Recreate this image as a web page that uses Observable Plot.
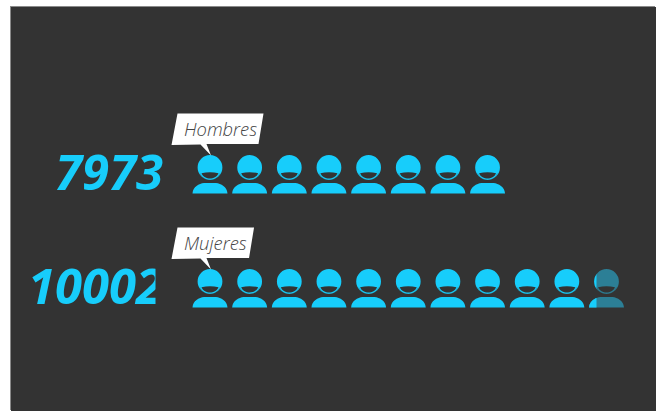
<!DOCTYPE html>
<html><head><meta charset="utf-8">
<script src="https://cdn.jsdelivr.net/npm/d3@7"></script>
<script src="https://cdn.jsdelivr.net/npm/@observablehq/plot@0.6"></script>
<style>
html,body{margin:0;padding:0;background:#fff;overflow:hidden}
#c{position:absolute;left:11px;top:7px;width:645px;height:404px;background:#333333;box-shadow:-1px -1px 0 #8a8a8a}
svg{display:block;background:transparent}
</style></head><body><div id="c"></div>
<script>
const groups = ["Hombres", "Mujeres"];
const totals = [7973, 10002];
const unit = 1000;
const calloutWidths = {Hombres: 1, Mujeres: 0.89};
const cyan = "#17cdfb";
const dim = "#2c7f96";
const bg = "#333333";

const W = 645, H = 404;
const R = 20;
const numDx = -47;
const s = size => Math.sqrt(size / Math.PI) / R;

function personBody(c, k) {
  c.moveTo(-17.5*k, 19*k);
  c.bezierCurveTo(-17*k, 12.5*k, -11*k, 9*k, -6*k, 8.6*k);
  c.lineTo(6*k, 8.6*k);
  c.bezierCurveTo(11*k, 9*k, 17*k, 12.5*k, 17.5*k, 19*k);
  c.closePath();
}
const person = {draw(c, size) {
  const k = s(size);
  c.moveTo(12.4*k, -7*k);
  c.arc(0, -7*k, 12.4*k, 0, 2*Math.PI);
  c.closePath();
  personBody(c, k);
}};
const mouth = {draw(c, size) {
  const k = s(size);
  c.moveTo(-8.5*k, -1.2*k);
  c.quadraticCurveTo(0, -3.4*k, 8.5*k, -1.2*k);
  c.bezierCurveTo(7*k, 2.5*k, 3.5*k, 4*k, 0, 4*k);
  c.bezierCurveTo(-3.5*k, 4*k, -7*k, 2.5*k, -8.5*k, -1.2*k);
  c.closePath();
}};
const smileLine = {draw(c, size) {
  const k = s(size);
  c.moveTo(-9.8*k, -1*k);
  c.bezierCurveTo(-8*k, 3.5*k, -4*k, 5.4*k, 0, 5.4*k);
  c.bezierCurveTo(4*k, 5.4*k, 8*k, 3.5*k, 9.8*k, -1*k);
}};
const callout = w => ({draw(c, size) {
  const k = s(size);
  const dx = 86 * w, tx = -32.5;
  c.moveTo(tx*k, -61*k);
  c.lineTo((tx + dx)*k, -61*k);
  c.lineTo((tx + dx - 5)*k, -30.5*k);
  c.lineTo(-3.5*k, -30.5*k);
  c.lineTo(1*k, -19*k);
  c.lineTo(-9.5*k, -30*k);
  c.lineTo(-38.5*k, -29.5*k);
  c.closePath();
}});

// the last unit of a row counts as full once it is mostly filled
const icons = groups.flatMap((g, i) =>
  d3.range(Math.ceil(totals[i] / unit)).map(j => ({
    group: g, j, full: totals[i] / unit - j > 0.5
  })));
const rows = groups.map((g, i) => ({group: g, total: totals[i], first: 0}));
const fullIcons = icons.filter(d => d.full);
const partIcons = icons.filter(d => !d.full);

const x = {type: "linear", domain: [0, 10], range: [198.5, 595]};
const y = {type: "point", domain: groups, range: [167, 281], padding: 0};

function clipTo(fn) {
  return (index, scales, values, dims, ctx, next) => {
    const g = next(index, scales, values, dims, ctx);
    const id = "clip" + Math.random().toString(36).slice(2);
    const [x0, y0, w, h] = fn(scales, dims);
    const cp = d3.select(g).append("clipPath").attr("id", id);
    cp.append("rect").attr("x", x0).attr("y", y0).attr("width", w).attr("height", h);
    g.setAttribute("clip-path", `url(#${id})`);
    return g;
  };
}

const numText = (data, extra) => Plot.text(data, {
  x: "first", y: "group", text: d => String(d.total),
  dx: numDx, dy: 0, textAnchor: "end",
  fontFamily: "Open Sans", fontWeight: 700, fontStyle: "italic",
  fontSize: 49, fill: cyan, ...extra
});

const chart = Plot.plot({
  width: W, height: H, margin: 0,
  x, y,
  axis: null,
  marks: [
    numText(rows.filter(d => d.group === "Hombres")),
    numText(rows.filter(d => d.group === "Mujeres"), {
      render: clipTo(sc => [0, 0, sc.x(0) - 54.5 - numDx, H])
    }),
    Plot.dot(partIcons, {x: "j", y: "group", symbol: person, r: R, fill: dim, stroke: "none"}),
    Plot.dot(partIcons, {x: "j", y: "group", symbol: mouth, r: R, fill: bg, stroke: "none"}),
    Plot.dot(partIcons, {
      x: "j", y: "group", symbol: person, r: R, fill: cyan, stroke: "none",
      render: clipTo(sc => [sc.x(10) - 17.5, 0, 7.5, H])
    }),
    Plot.dot(fullIcons, {x: "j", y: "group", symbol: person, r: R, fill: cyan, stroke: "none"}),
    Plot.dot(fullIcons, {x: "j", y: "group", symbol: mouth, r: R, fill: bg, stroke: "none"}),
    Plot.dot(icons, {x: "j", y: "group", symbol: smileLine, r: R, fill: "none", stroke: bg, strokeWidth: 0.8, strokeOpacity: 0.3}),
    ...groups.map(g => Plot.dot(rows.filter(d => d.group === g), {
      x: "first", y: "group", symbol: callout(calloutWidths[g]), r: R,
      fill: "white", stroke: "none"
    })),
    Plot.text(rows, {
      x: "first", y: "group", text: "group", dx: -26, dy: -44.5,
      textAnchor: "start",
      fontFamily: "Open Sans", fontWeight: 300, fontStyle: "italic",
      fontSize: 18.4, fill: "#444444"
    })
  ]
});
document.getElementById("c").appendChild(chart);
</script></body></html>
